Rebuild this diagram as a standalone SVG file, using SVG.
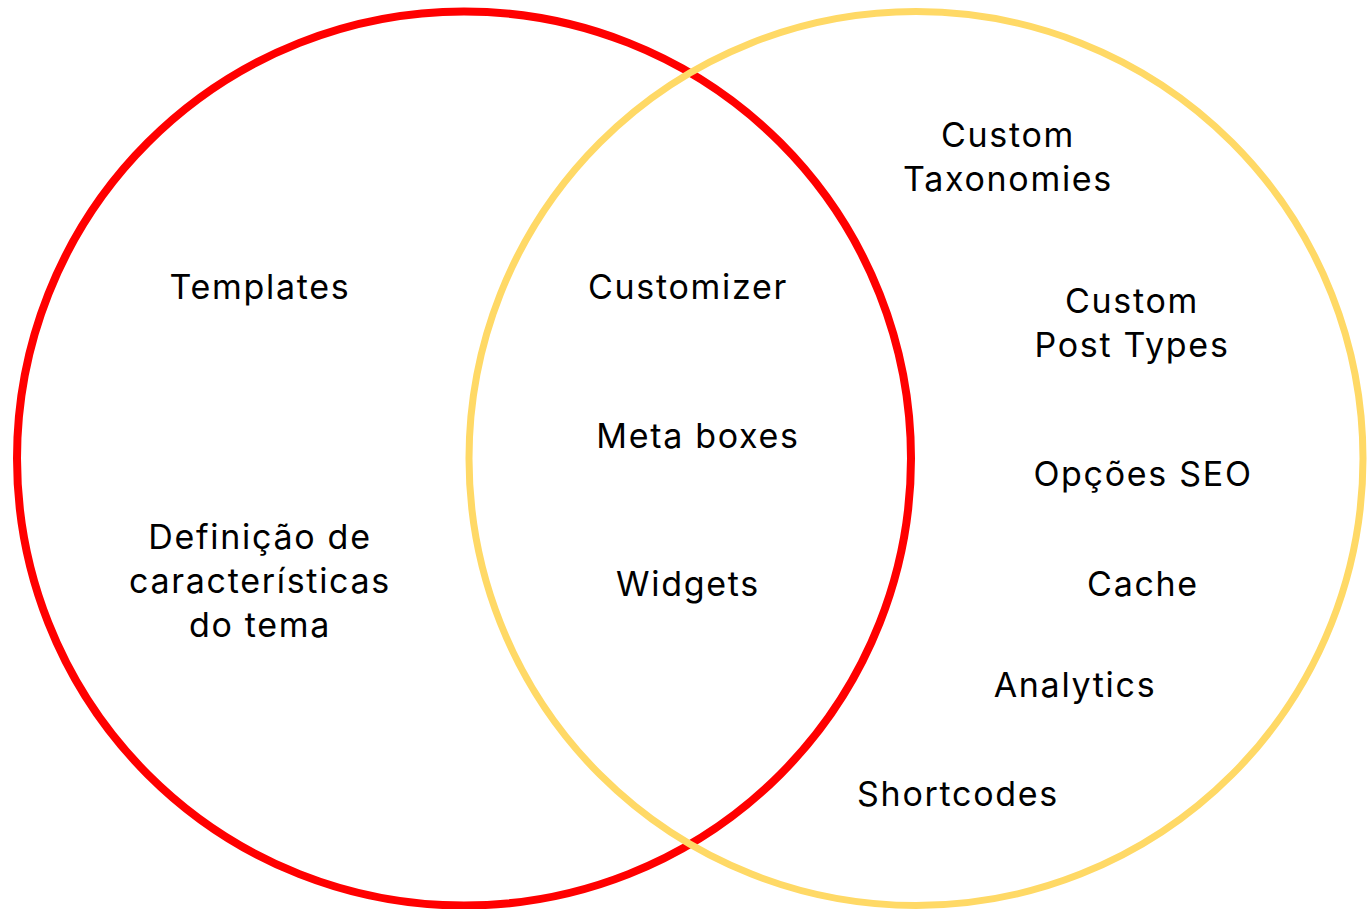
<svg xmlns="http://www.w3.org/2000/svg" width="1367" height="909" viewBox="0 0 1367 909">
<style>
text{font-family:Inter,"Noto Sans",sans-serif;font-size:34px;fill:#000;text-anchor:middle;letter-spacing:1.7px}
.c{fill:none}
</style>
<rect width="1367" height="909" fill="#fff"/>
<g id="circle-red"><circle class="c" cx="464" cy="458.5" r="447" stroke="#ff0000" stroke-width="8"/></g>
<g id="circle-yellow"><circle class="c" cx="916" cy="458.5" r="447" stroke="#ffd966" stroke-width="7"/></g>
<g id="connectors"></g>
<g id="templates"><text x="260" y="299">Templates</text></g>
<g id="definicao"><text x="260" y="549">Definição de</text><text x="260" y="593">características</text><text x="260" y="637">do tema</text></g>
<g id="customizer"><text x="688" y="299">Customizer</text></g>
<g id="metaboxes"><text x="698" y="448">Meta boxes</text></g>
<g id="widgets"><text x="688" y="596">Widgets</text></g>
<g id="taxonomies"><text x="1008" y="147">Custom</text><text x="1008" y="191">Taxonomies</text></g>
<g id="posttypes"><text x="1132" y="313">Custom</text><text x="1132" y="357">Post Types</text></g>
<g id="seo"><text x="1143" y="486">Opções SEO</text></g>
<g id="cache"><text x="1143" y="596">Cache</text></g>
<g id="analytics"><text x="1075" y="697">Analytics</text></g>
<g id="shortcodes"><text x="958" y="806">Shortcodes</text></g>
</svg>
